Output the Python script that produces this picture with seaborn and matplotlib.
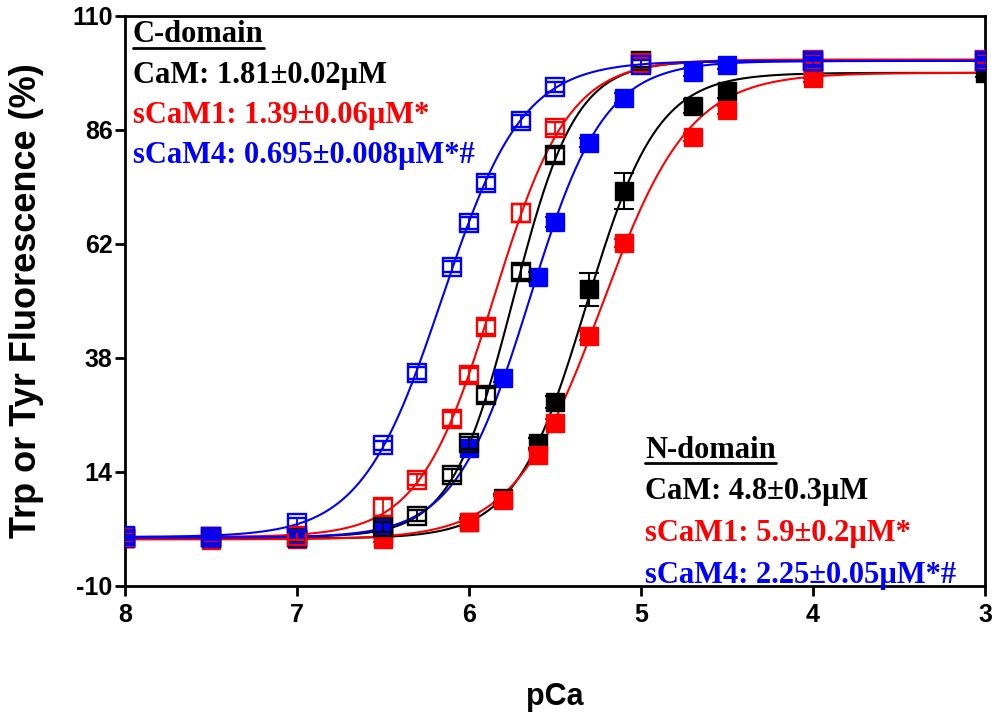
import numpy as np
import pandas as pd
import seaborn as sns
import matplotlib.pyplot as plt
from matplotlib.lines import Line2D

sns.set_style("white")
plt.rcParams['font.family'] = ['Liberation Sans', 'DejaVu Sans']
plt.rcParams['text.color'] = 'black'
plt.rcParams['axes.labelcolor'] = 'black'
plt.rcParams['xtick.color'] = 'black'
plt.rcParams['ytick.color'] = 'black'

# pCa values at which data were measured
pca_c = [8.0, 7.5, 7.0, 6.5, 6.3, 6.1, 6.0, 5.9, 5.7, 5.5, 5.0, 4.0, 3.0]
pca_n = [8.0, 7.5, 7.0, 6.5, 6.0, 5.8, 5.6, 5.5, 5.3, 5.1, 4.7, 4.5, 4.0, 3.0]

# C-domain (open squares)
cam_c = [0.3, 0.3, 0.3, 2.4, 4.8, 13.4, 20.1, 30.2, 56.1, 80.7, 100.5, 100.5, 100.5]
scam1_c = [0.3, 0.3, 0.5, 6.6, 12.4, 25.2, 34.4, 44.5, 68.5, 86.4, 100.0, 100.8, 100.8]
scam4_c = [0.5, 0.4, 3.3, 19.6, 34.8, 57.2, 66.4, 74.8, 87.9, 95.0, 99.6, 100.5, 100.5]
cam_c_err = [0.8, 0.8, 0.8, 1.0, 1.2, 1.2, 1.2, 1.5, 1.5, 1.5, 1.2, 0.8, 0.8]
scam1_c_err = [0.8, 0.8, 0.8, 1.8, 1.2, 1.5, 1.5, 1.5, 1.8, 1.2, 1.2, 0.8, 0.8]
scam4_c_err = [0.8, 0.8, 1.0, 1.0, 1.2, 1.2, 1.2, 1.2, 1.2, 1.0, 1.0, 0.8, 0.8]

# N-domain (filled squares)
cam_n = [0.0, 0.0, 0.0, 1.2, 3.5, 8.5, 20.1, 28.7, 52.4, 73.2, 91.0, 94.2, 97.8, 98.0]
scam1_n = [0.0, -0.3, -0.2, -0.2, 3.4, 8.1, 17.6, 24.2, 42.7, 62.2, 84.5, 90.2, 96.9, 100.6]
scam4_n = [0.2, 0.2, 0.2, 2.8, 19.0, 33.8, 55.0, 66.6, 83.3, 92.7, 98.2, 99.7, 100.5, 100.6]
cam_n_err = [0.6, 0.6, 0.6, 0.8, 0.8, 0.8, 1.0, 1.2, 3.5, 3.8, 1.5, 1.5, 0.8, 0.8]
scam1_n_err = [0.6, 0.6, 0.6, 0.6, 0.8, 0.8, 1.0, 1.0, 1.0, 0.8, 0.8, 0.8, 0.8, 0.8]
scam4_n_err = [0.6, 0.6, 0.6, 0.8, 0.8, 0.8, 1.0, 1.0, 1.0, 1.0, 0.8, 0.8, 0.8, 0.8]

# Hill fit parameters: Kd (uM) from the annotations, Hill n, bottom, top
kd_c = [1.81, 1.39, 0.695]
kd_n = [4.8, 5.9, 2.25]
hill_c = [2.4, 2.0, 1.85]
hill_n = [2.1, 1.7, 2.0]
bottom_c = [0.3, 0.3, 0.3]
bottom_n = [0.0, -0.2, 0.2]
top_c = [100.5, 100.8, 100.5]
top_n = [98.0, 98.0, 100.5]

names = ["CaM", "sCaM1", "sCaM4"]
colors = ["black", "#ff0000", "#0000ff"]
c_labels = ["CaM: 1.81\u00b10.02\u00b5M", "sCaM1: 1.39\u00b10.06\u00b5M*", "sCaM4: 0.695\u00b10.008\u00b5M*#"]
n_labels = ["CaM: 4.8\u00b10.3\u00b5M", "sCaM1: 5.9\u00b10.2\u00b5M*", "sCaM4: 2.25\u00b10.05\u00b5M*#"]

xticks = [8, 7, 6, 5, 4, 3]
yticks = [-10, 14, 38, 62, 86, 110]

c_vals = [cam_c, scam1_c, scam4_c]
c_errs = [cam_c_err, scam1_c_err, scam4_c_err]
n_vals = [cam_n, scam1_n, scam4_n]
n_errs = [cam_n_err, scam1_n_err, scam4_n_err]


def hill(x, kd, n, bot, top):
    p50 = -np.log10(kd * 1e-6)
    return bot + (top - bot) / (1 + 10 ** (n * (x - p50)))


fig = plt.figure(figsize=(10, 7.19), dpi=100)
ax = fig.add_axes([0.125, 0.185, 0.86, 0.793])

xfit = np.linspace(8, 3, 400)
fits = []
for dom, kds, ns, bots, tops in [("C", kd_c, hill_c, bottom_c, top_c), ("N", kd_n, hill_n, bottom_n, top_n)]:
    for i in range(3):
        fits.append(pd.DataFrame({"pCa": xfit, "F": hill(xfit, kds[i], ns[i], bots[i], tops[i]),
                                  "series": dom + names[i]}))
fit_df = pd.concat(fits, ignore_index=True)
pal = {d + names[i]: colors[i] for d in "CN" for i in range(3)}
sns.lineplot(data=fit_df, x="pCa", y="F", hue="series", palette=pal, ax=ax,
             linewidth=1.5, legend=False, sort=False, estimator=None)

for i in range(3):
    ax.errorbar(pca_n, n_vals[i], yerr=n_errs[i], fmt="s", color=colors[i], ms=12.5,
                mfc=colors[i], mec=colors[i], ecolor=colors[i], elinewidth=1.5,
                capsize=7, capthick=1.5, zorder=4)
for i in range(3):
    ax.errorbar(pca_c, c_vals[i], yerr=c_errs[i], fmt="s", color=colors[i], ms=12.5,
                mfc="none", mec=colors[i], mew=1.7, ecolor=colors[i], elinewidth=1.3,
                capsize=7, capthick=1.3, zorder=5)

ax.set_xlim(8, 3)
ax.set_ylim(-10, 110)
ax.set_xticks(xticks)
ax.set_yticks(yticks)
ax.set_xticklabels([str(t) for t in xticks], fontsize=18, fontweight="bold")
ax.set_yticklabels([str(t) for t in yticks], fontsize=18, fontweight="bold")
ax.tick_params(axis="both", direction="out", length=7, width=2, colors="black",
               bottom=True, left=True, top=False, right=False)
ax.tick_params(axis="y", pad=2)
ax.tick_params(axis="x", pad=5)
for s in ax.spines.values():
    s.set_linewidth(2)
    s.set_color("black")

ax.set_xlabel("pCa", fontsize=22, fontweight="bold", labelpad=40)
ax.set_ylabel("Trp or Tyr Fluorescence (%)", fontsize=26, fontweight="bold", labelpad=20)

serif = ["Liberation Serif", "DejaVu Serif"]
heads = []
t = ax.text(133, 35, "C-domain", transform=None, fontsize=22, fontweight="bold",
            family=serif, va="center", ha="left")
heads.append(t)
for i, lab in enumerate(c_labels):
    ax.text(133, 75 + 40.5 * i, lab, transform=None, fontsize=22, fontweight="bold",
            family=serif, color=colors[i], va="center", ha="left")
t = ax.text(645, 450, "N-domain", transform=None, fontsize=22, fontweight="bold",
            family=serif, va="center", ha="left")
heads.append(t)
for i, lab in enumerate(n_labels):
    ax.text(645, 491 + 42.5 * i, lab, transform=None, fontsize=22, fontweight="bold",
            family=serif, color=colors[i], va="center", ha="left")

# convert top-down pixel positions to display coords
H = fig.bbox.height
for txt in ax.texts:
    x, y = txt.get_position()
    txt.set_position((x, H - y))

fig.canvas.draw()
r = fig.canvas.get_renderer()
for t in heads:
    bb = t.get_window_extent(r)
    fig.add_artist(Line2D([bb.x0, bb.x1], [bb.y0 + 2, bb.y0 + 2], transform=None,
                          color="black", linewidth=2))

fig.savefig("out.png", dpi=100)
